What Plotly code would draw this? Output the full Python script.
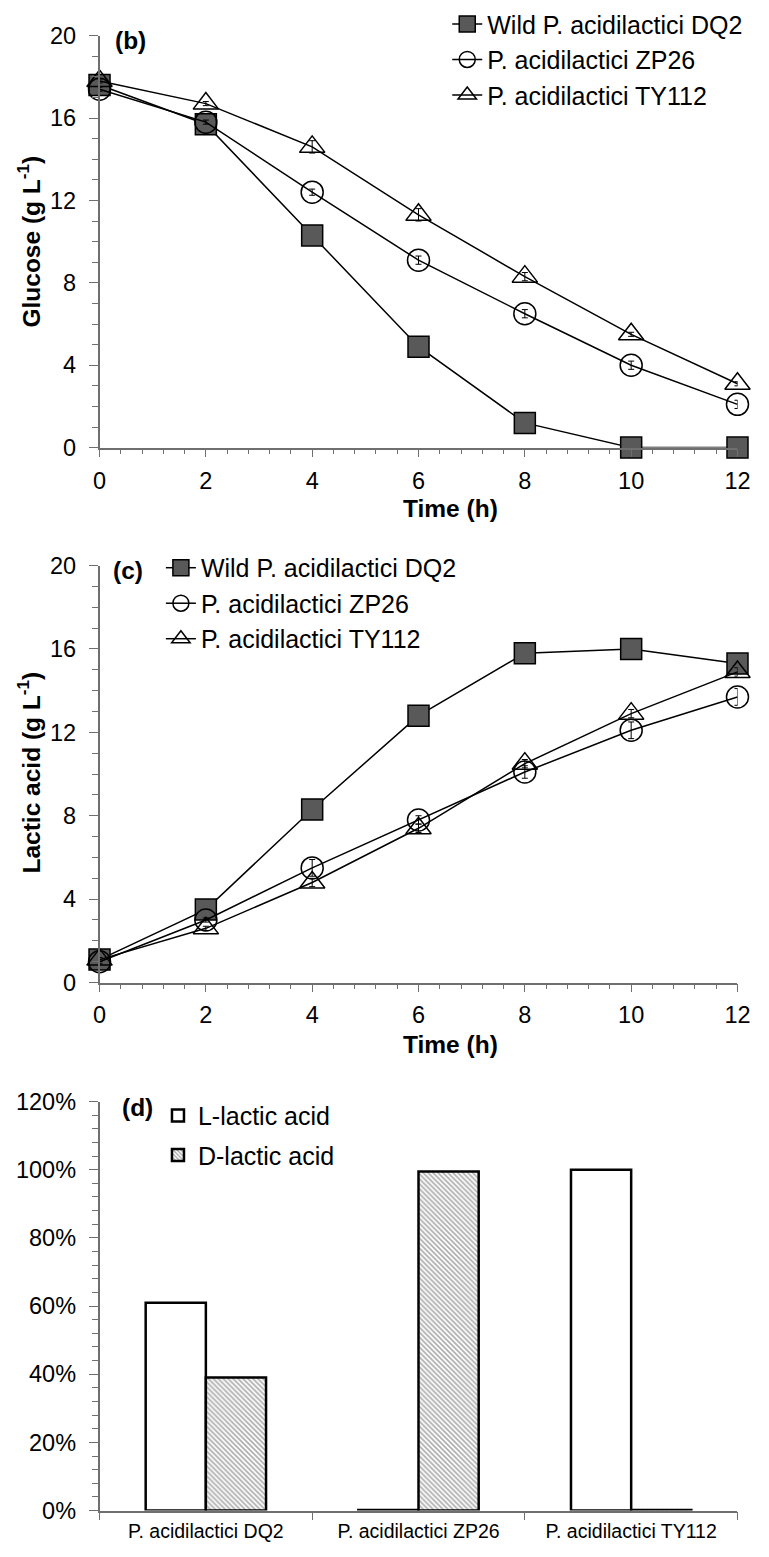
import plotly.graph_objects as go

W, H = 769, 1557

time_h = [0, 2, 4, 6, 8, 10, 12]
strain_names = ["Wild P. acidilactici DQ2", "P. acidilactici ZP26", "P. acidilactici TY112"]

glucose_dq2 = [17.6, 15.7, 10.3, 4.9, 1.2, 0.0, 0.0]
glucose_zp26 = [17.4, 15.8, 12.4, 9.1, 6.5, 4.0, 2.1]
glucose_ty112 = [17.8, 16.7, 14.6, 11.3, 8.3, 5.5, 3.1]
glucose_dq2_sd = [0.1, 0.1, 0.1, 0.1, 0.1, 0.0, 0.0]
glucose_zp26_sd = [0.1, 0.1, 0.15, 0.2, 0.2, 0.2, 0.2]
glucose_ty112_sd = [0.1, 0.1, 0.3, 0.3, 0.2, 0.1, 0.1]

lactic_dq2 = [1.1, 3.5, 8.3, 12.8, 15.8, 16.0, 15.3]
lactic_zp26 = [1.0, 3.0, 5.5, 7.8, 10.1, 12.1, 13.7]
lactic_ty112 = [1.1, 2.6, 4.8, 7.4, 10.5, 12.9, 14.9]
lactic_dq2_sd = [0.1, 0.1, 0.1, 0.1, 0.3, 0.2, 0.1]
lactic_zp26_sd = [0.1, 0.1, 0.4, 0.2, 0.3, 0.4, 0.4]
lactic_ty112_sd = [0.1, 0.1, 0.2, 0.2, 0.2, 0.2, 0.2]

bar_categories = ["P. acidilactici DQ2", "P. acidilactici ZP26", "P. acidilactici TY112"]
l_lactic_pct = [61, 0, 100]
d_lactic_pct = [39, 99.5, 0]

FONT = "Liberation Sans, Arial, sans-serif"
AX = "#6f6f6f"


def px_x(p):
    return p / W


def px_y(p):
    return 1 - p / H


marker_styles = [
    dict(symbol="square", size=21, color="#595959", line=dict(color="black", width=1.5)),
    dict(symbol="circle-open", size=22, color="black", line=dict(width=1.5)),
    dict(symbol="triangle-up-open", size=22, color="black", line=dict(width=1.5)),
]

fig = go.Figure()

glu_sets = [(glucose_dq2, glucose_dq2_sd), (glucose_zp26, glucose_zp26_sd), (glucose_ty112, glucose_ty112_sd)]
lac_sets = [(lactic_dq2, lactic_dq2_sd), (lactic_zp26, lactic_zp26_sd), (lactic_ty112, lactic_ty112_sd)]

for i, (vals, sd) in enumerate(glu_sets):
    fig.add_trace(go.Scatter(
        x=time_h, y=vals, name=strain_names[i], mode="lines+markers",
        line=dict(color="black", width=1.5), marker=marker_styles[i],
        error_y=dict(type="data", array=sd, color="black", thickness=1, width=3),
        xaxis="x", yaxis="y", legend="legend", legendgroup="b%d" % i,
        cliponaxis=False))

for i, (vals, sd) in enumerate(lac_sets):
    fig.add_trace(go.Scatter(
        x=time_h, y=vals, name=strain_names[i], mode="lines+markers",
        line=dict(color="black", width=1.5), marker=marker_styles[i],
        error_y=dict(type="data", array=sd, color="black", thickness=1, width=3),
        xaxis="x2", yaxis="y2", legend="legend2", legendgroup="c%d" % i,
        cliponaxis=False))

# zero-valued bars are drawn as a hairline so their outline shows as in the original
shown_l = [v if v > 0 else 0.15 for v in l_lactic_pct]
shown_d = [v if v > 0 else 0.15 for v in d_lactic_pct]

fig.add_trace(go.Bar(
    x=bar_categories, y=shown_l, name="L-lactic acid",
    customdata=l_lactic_pct, hovertemplate="%{x}: %{customdata}%<extra>L-lactic acid</extra>",
    marker=dict(color="white", line=dict(color="black", width=2.5)),
    xaxis="x3", yaxis="y3", legend="legend3", legendgroup="d0", cliponaxis=False))
fig.add_trace(go.Bar(
    x=bar_categories, y=shown_d, name="D-lactic acid",
    customdata=d_lactic_pct, hovertemplate="%{x}: %{customdata}%<extra>D-lactic acid</extra>",
    marker=dict(color="white", line=dict(color="black", width=2.5),
                pattern=dict(shape="\\", fgcolor="#5f5f5f", bgcolor="white", size=3.5, solidity=0.5)),
    xaxis="x3", yaxis="y3", legend="legend3", legendgroup="d1", cliponaxis=False))

tick_font = dict(family=FONT, size=23.5, color="black")

common_x = dict(
    range=[0, 12], dtick=2, tick0=0, showline=True, linecolor=AX, linewidth=1.5,
    ticks="outside", ticklen=8, tickwidth=1.3, tickcolor=AX, showgrid=False, zeroline=False,
    minor=dict(dtick=0.4, tick0=0, ticks="outside", ticklen=5, tickwidth=1.3, tickcolor=AX, showgrid=False),
    tickfont=tick_font, ticklabelstandoff=3,
)
common_y = dict(
    range=[0, 20], dtick=4, tick0=0, showline=True, linecolor=AX, linewidth=1.5,
    ticks="outside", ticklen=9, tickwidth=1.3, tickcolor=AX, showgrid=False, zeroline=False,
    minor=dict(dtick=1, tick0=0, ticks="outside", ticklen=6, tickwidth=1.3, tickcolor=AX, showgrid=False),
    tickfont=tick_font, ticklabelstandoff=8,
)

xdom = [px_x(95), px_x(750)]

legend_common = dict(
    xanchor="left", yanchor="top", bgcolor="rgba(0,0,0,0)", borderwidth=0,
    font=dict(family=FONT, size=25, color="black"), tracegroupgap=0, traceorder="grouped",
)

fig.update_layout(
    width=W, height=H, autosize=False,
    margin=dict(l=0, r=0, t=0, b=0, pad=0),
    paper_bgcolor="white", plot_bgcolor="white",
    font=dict(family=FONT, size=22, color="black"),
    showlegend=True,
    barmode="group", bargap=0.434, bargroupgap=0,
    xaxis=dict(domain=xdom, anchor="y", **common_x),
    yaxis=dict(domain=[px_y(442), px_y(23)], anchor="x", **common_y),
    xaxis2=dict(domain=xdom, anchor="y2", **common_x),
    yaxis2=dict(domain=[px_y(986), px_y(562)], anchor="x2", **common_y),
    xaxis3=dict(domain=xdom, anchor="y3", type="category", tickson="boundaries",
                showline=True, linecolor=AX, linewidth=1.5, ticks="outside", ticklen=8,
                tickwidth=1.3, tickcolor=AX, showgrid=False, zeroline=False,
                tickfont=dict(family=FONT, size=19.5, color="black"), ticklabelstandoff=2),
    yaxis3=dict(domain=[px_y(1523), px_y(1107)], anchor="x3", range=[0, 120], dtick=20, tick0=0,
                ticksuffix="%", showline=True, linecolor=AX, linewidth=1.5, ticks="outside",
                ticklen=9, tickwidth=1.3, tickcolor=AX, showgrid=False, zeroline=False,
                minor=dict(dtick=4, tick0=0, ticks="outside", ticklen=6, tickwidth=1.3, tickcolor=AX,
                           showgrid=False),
                tickfont=tick_font, ticklabelstandoff=8),
    legend=dict(x=px_x(452), y=px_y(-12), **legend_common),
    legend2=dict(x=px_x(158), y=px_y(541), **legend_common),
    legend3=dict(x=px_x(155), y=px_y(1098), xanchor="left", yanchor="top", bgcolor="rgba(0,0,0,0)",
                 font=dict(family=FONT, size=25, color="black"), tracegroupgap=4, traceorder="grouped"),
)

title_font = dict(family=FONT, size=24.5, color="black")
annotations = [
    dict(text="<b>(b)</b>", x=px_x(109), y=px_y(28)),
    dict(text="<b>(c)</b>", x=px_x(107), y=px_y(567)),
    dict(text="<b>(d)</b>", x=px_x(116), y=px_y(1113)),
]
for a in annotations:
    fig.add_annotation(xref="paper", yref="paper", xanchor="left", yanchor="middle",
                       showarrow=False, font=title_font, **a)

for txt, x, y, ang in [
    ("<b>Time (h)</b>", 455, 504, 0),
    ("<b>Time (h)</b>", 455, 1049, 0),
    ("<b>Glucose (g L<sup>-1</sup>)</b>", 22, 232, -90),
    ("<b>Lactic acid (g L<sup>-1</sup>)</b>", 22, 772, -90),
]:
    fig.add_annotation(xref="paper", yref="paper", x=px_x(x), y=px_y(y), text=txt,
                       textangle=ang, showarrow=False, xanchor="center", yanchor="middle",
                       font=title_font)

fig.write_html("out.html", config={"displayModeBar": False},
               post_script="document.body.style.margin='0';")
